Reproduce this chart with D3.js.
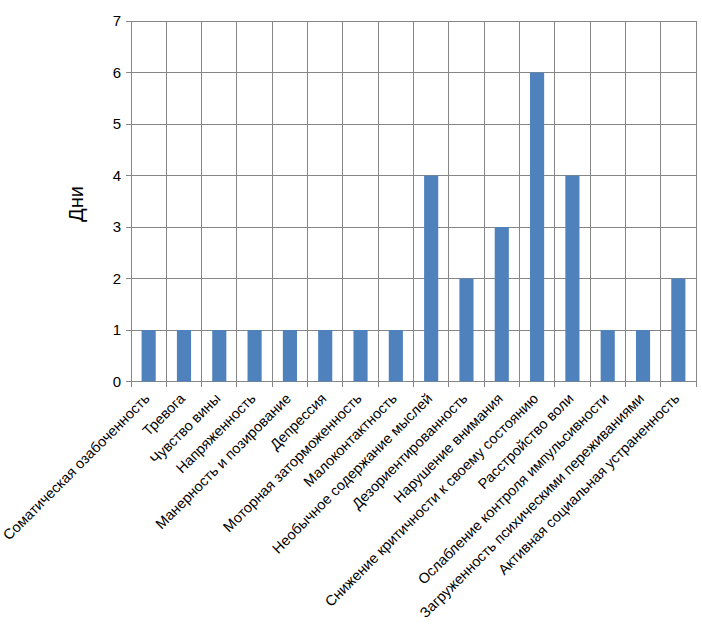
<!DOCTYPE html>
<html><head><meta charset="utf-8">
<script src="https://cdn.jsdelivr.net/npm/d3@7"></script>
<style>body{margin:0;background:#fff}svg{display:block}text{font-family:"Liberation Sans",Arial,sans-serif}</style>
</head><body>
<svg id="c" width="702" height="639"></svg>
<script>
const categories = ["Соматическая озабоченность","Тревога","Чувство вины","Напряженность","Манерность и позирование","Депрессия","Моторная заторможенность","Малоконтактность","Необычное содержание мыслей","Дезориентированность","Нарушение внимания","Снижение критичности к своему состоянию","Расстройство воли","Ослабление контроля импульсивности","Загруженность психическими переживаниями","Активная социальная устраненность"];
const values = [1,1,1,1,1,1,1,1,4,2,3,6,4,1,1,2];
const yTicks = [0,1,2,3,4,5,6,7];
const yTitle = "Дни";

const svg = d3.select("#c");
const L = 131, R = 696, T = 21, B = 381.5;
const x = d3.scaleBand().domain(categories).range([L, R]).paddingInner(0).paddingOuter(0);
const y = d3.scaleLinear().domain([0, 7]).range([B, T]);
const grid = "#868686";

// horizontal grid
svg.append("g").selectAll("line").data(yTicks).join("line")
  .attr("x1", L - 5).attr("x2", R).attr("y1", d => y(d)).attr("y2", d => y(d))
  .attr("stroke", grid).attr("stroke-width", 1).attr("shape-rendering","crispEdges");
// vertical grid at category boundaries
const bounds = categories.map(c => x(c)).concat([R]);
svg.append("g").selectAll("line").data(bounds).join("line")
  .attr("x1", d => d).attr("x2", d => d).attr("y1", T).attr("y2", B + 5)
  .attr("stroke", grid).attr("stroke-width", 1).attr("shape-rendering","crispEdges");

// bars
const bw = x.bandwidth() / 2.5;
svg.append("g").selectAll("rect").data(values).join("rect")
  .attr("x", (d, i) => x(categories[i]) + x.bandwidth() / 2 - bw / 2)
  .attr("width", bw)
  .attr("y", d => y(d)).attr("height", d => y(0) - y(d))
  .attr("fill", "#4F81BD");

// y tick labels
svg.append("g").selectAll("text").data(yTicks).join("text")
  .attr("x", L - 10).attr("y", d => y(d)).attr("dy", "0.35em")
  .attr("text-anchor", "end").attr("font-size", 15).attr("fill", "#000").text(d => d);

// x labels
svg.append("g").selectAll("text").data(categories).join("text")
  .attr("transform", c => `translate(${x(c) + x.bandwidth()/2 + 2},${B + 18}) rotate(-45)`)
  .attr("text-anchor", "end").attr("font-size", 14.5).attr("fill", "#000").text(c => c);

// y title
svg.append("text").attr("transform", `translate(83,204) rotate(-90)`)
  .attr("text-anchor", "middle").attr("font-size", 20).attr("fill", "#000").text(yTitle);
</script>
</body></html>
